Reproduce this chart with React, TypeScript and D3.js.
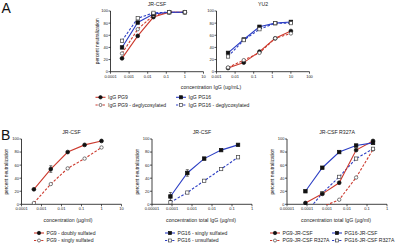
import React from 'react';
import * as d3 from 'd3';

// ---------- data ----------
const concA_JR = [0.000416, 0.002915, 0.0204, 0.1429, 1];
const concA_YU2 = [0.00417, 0.0292, 0.204, 1.43, 10];
const concB1 = [0.000416, 0.002915, 0.0204, 0.1429, 1];
const concB23 = [0.0000833, 0.000583, 0.00408, 0.0286, 0.2];

const jrPG9 = [22, 59, 90, 98, 98];
const jrPG9Degly = [30, 70, 93, 98, 98];
const jrPG16 = [40, 81, 95, 98, 98];
const jrPG16Degly = [51, 88, 97, 98, 98];

const yuPG9 = [6, 15, 33, 55, 67];
const yuPG9Degly = [7, 19, 31, 55, 63];
const yuPG16 = [31, 53, 74, 80, 82];
const yuPG16Degly = [25, 52, 70, 80, 80];

const b1Doubly = [23, 54, 80, 91, 97];
const b1DoublyErr = [0, 5, 0, 0, 0];
const b1Singly = [2, 31, 55, 70, 87];

const b2Singly = [12, 48, 70, 83, 91];
const b2SinglyErr = [6, 5, 0, 0, 0];
const b2Unsulf = [3, 18, 36, 54, 72];

const b3PG9 = [2, 16, 33, 83, 97];
const b3PG9R = [null, -4, 7, 41, 84];
const b3PG16 = [20, 56, 80, 90, 94];
const b3PG16R = [-14, 17, 42, 70, 85];

const yTicks = [0, 20, 40, 60, 80, 100];
const xTicksA1 = ['0.0001', '0.001', '0.01', '0.1', '1', '10'];
const xTicksA2 = ['0.001', '0.01', '0.1', '1', '10', '100'];
const xTicksB1 = ['0.0001', '0.001', '0.01', '0.1', '1', '10'];
const xTicksB23 = ['0.00001', '0.0001', '0.001', '0.01', '0.1', '1'];

const RED = '#cc3a2e';
const BLUE = '#2d3fc4';
const FONT = 'Liberation Sans, Arial, sans-serif';

type Style = { color: string; dashed: boolean; marker: 'circle' | 'square'; open: boolean };
type Series = Style & { values: (number | null)[]; err?: number[]; conc: number[] };

const sPG9: Style = { color: RED, dashed: false, marker: 'circle', open: false };
const sPG9o: Style = { color: RED, dashed: true, marker: 'circle', open: true };
const sPG16: Style = { color: BLUE, dashed: false, marker: 'square', open: false };
const sPG16o: Style = { color: BLUE, dashed: true, marker: 'square', open: true };

function Marker({ st, x, y, scale = 1 }: { st: Style; x: number; y: number; scale?: number }) {
  const fill = st.open ? '#fff' : '#111';
  const stroke = st.open ? '#444' : '#111';
  if (st.marker === 'circle')
    return <circle cx={x} cy={y} r={(st.open ? 1.7 : 1.9) * scale} fill={fill} stroke={stroke} strokeWidth={0.7} />;
  const s = (st.open ? 3.3 : 3.5) * scale;
  return <rect x={x - s / 2} y={y - s / 2} width={s} height={s} fill={fill} stroke={stroke} strokeWidth={0.7} />;
}

function Panel(props: {
  id: string; x0: number; x1: number; y0: number; y1: number;
  ticks: string[]; series: Series[]; title?: string; titleX?: number;
  ylabel?: boolean; ylabelX?: number;
}) {
  const { id, x0, x1, y0, y1, ticks, series, title, ylabel, ylabelX } = props;
  const tv = ticks.map(Number);
  const x = d3.scaleLog().domain([tv[0], tv[tv.length - 1]]).range([x0, x1]);
  const y = d3.scaleLinear().domain([0, 100]).range([y0, y1]);
  const clipId = 'clip-' + id;
  return (
    <g>
      <defs>
        <clipPath id={clipId}>
          <rect x={x0} y={y1 - 6} width={x1 - x0 + 6} height={y0 - y1 + 6.6} />
        </clipPath>
      </defs>
      {title && (
        <text x={props.titleX ?? (x0 + x1) / 2} y={y1 - 5} textAnchor="middle" fontSize={5.2} fontFamily={FONT} fill="#222">{title}</text>
      )}
      <line x1={x0} x2={x0} y1={y0} y2={y1} stroke="#111" strokeWidth={0.8} />
      <line x1={x0} x2={x1} y1={y0} y2={y0} stroke="#111" strokeWidth={0.8} />
      {yTicks.map((t) => (
        <g key={'y' + t}>
          <line x1={x0 - 2} x2={x0} y1={y(t)} y2={y(t)} stroke="#111" strokeWidth={0.7} />
          <text x={x0 - 2.6} y={y(t) + 1.4} textAnchor="end" fontSize={4} fontFamily={FONT} fill="#222">{t}</text>
        </g>
      ))}
      {ticks.map((t, i) => (
        <g key={'x' + t}>
          <line x1={x(tv[i])} x2={x(tv[i])} y1={y0} y2={y0 + 2} stroke="#111" strokeWidth={0.7} />
          <text x={x(tv[i])} y={y0 + 6} textAnchor="middle" fontSize={4} fontFamily={FONT} fill="#222">{t}</text>
        </g>
      ))}
      {ylabel && (
        <text transform={`translate(${ylabelX},${(y0 + y1) / 2}) rotate(-90)`} textAnchor="middle" fontSize={4.8} fontFamily={FONT} fill="#222">percent neutralization</text>
      )}
      <g clipPath={`url(#${clipId})`}>
        {series.map((s, si) => {
          const pts = s.conc.map((c, i) => [c, s.values[i]] as [number, number | null]).filter((p) => p[1] !== null) as [number, number][];
          const line = d3.line<[number, number]>().x((p) => x(p[0])).y((p) => y(p[1]));
          return (
            <path key={'l' + si} d={line(pts) || ''} fill="none" stroke={s.color} strokeWidth={1.1} strokeDasharray={s.dashed ? '2.6,1.6' : undefined} />
          );
        })}
        {series.map((s, si) => (
          <g key={'m' + si}>
            {s.conc.map((c, i) => {
              const v = s.values[i];
              if (v === null) return null;
              const e = s.err ? s.err[i] : 0;
              return (
                <g key={i}>
                  {e > 0 && (
                    <g stroke="#111" strokeWidth={0.6}>
                      <line x1={x(c)} x2={x(c)} y1={y(v - e)} y2={y(v + e)} />
                      <line x1={x(c) - 1.5} x2={x(c) + 1.5} y1={y(v + e)} y2={y(v + e)} />
                      <line x1={x(c) - 1.5} x2={x(c) + 1.5} y1={y(v - e)} y2={y(v - e)} />
                    </g>
                  )}
                  <Marker st={s} x={x(c)} y={y(v)} />
                </g>
              );
            })}
          </g>
        ))}
      </g>
    </g>
  );
}

function LegendItem({ st, x, y, label }: { st: Style; x: number; y: number; label: string }) {
  return (
    <g>
      <line x1={x} x2={x + 10} y1={y} y2={y} stroke={st.color} strokeWidth={1.1} strokeDasharray={st.dashed ? '2.2,1.4' : undefined} />
      <Marker st={st} x={x + 5} y={y} scale={0.9} />
      <text x={x + 12.5} y={y + 1.8} fontSize={5.1} fontFamily={FONT} fill="#222">{label}</text>
    </g>
  );
}

export default function App() {
  const A1: Series[] = [
    { ...sPG9, conc: concA_JR, values: jrPG9 },
    { ...sPG9o, conc: concA_JR, values: jrPG9Degly },
    { ...sPG16, conc: concA_JR, values: jrPG16 },
    { ...sPG16o, conc: concA_JR, values: jrPG16Degly },
  ];
  const A2: Series[] = [
    { ...sPG9, conc: concA_YU2, values: yuPG9 },
    { ...sPG9o, conc: concA_YU2, values: yuPG9Degly },
    { ...sPG16, conc: concA_YU2, values: yuPG16 },
    { ...sPG16o, conc: concA_YU2, values: yuPG16Degly },
  ];
  const B1: Series[] = [
    { ...sPG9o, conc: concB1, values: b1Singly },
    { ...sPG9, conc: concB1, values: b1Doubly, err: b1DoublyErr },
  ];
  const B2: Series[] = [
    { ...sPG16o, conc: concB23, values: b2Unsulf },
    { ...sPG16, conc: concB23, values: b2Singly, err: b2SinglyErr },
  ];
  const B3: Series[] = [
    { ...sPG9o, conc: concB23, values: b3PG9R },
    { ...sPG16o, conc: concB23, values: b3PG16R },
    { ...sPG9, conc: concB23, values: b3PG9 },
    { ...sPG16, conc: concB23, values: b3PG16 },
  ];
  return (
    <svg width={400} height={245} style={{ position: 'absolute', left: 0, top: 0, background: '#fff' }}>
      <rect width={400} height={245} fill="#fff" />
      <text x={1.5} y={13} fontSize={14} fontFamily={FONT} fill="#111">A</text>
      <text x={1} y={140} fontSize={14} fontFamily={FONT} fill="#111">B</text>

      <Panel id="a1" x0={110.5} x1={203.5} y0={71.7} y1={11} ticks={xTicksA1} series={A1} title="JR-CSF" ylabel ylabelX={98.5} />
      <Panel id="a2" x0={216.5} x1={309.5} y0={71.7} y1={11} ticks={xTicksA2} series={A2} title="YU2" />
      <text x={211} y={88.5} textAnchor="middle" fontSize={5.2} fontFamily={FONT} fill="#222">concentration IgG (ug/mL)</text>
      <LegendItem st={sPG9} x={95.5} y={97.3} label="IgG PG9" />
      <LegendItem st={sPG9o} x={95.5} y={105} label="IgG PG9 - deglycosylated" />
      <LegendItem st={sPG16} x={176} y={97.3} label="IgG PG16" />
      <LegendItem st={sPG16o} x={176} y={105} label="IgG PG16 - deglycosylated" />

      <Panel id="b1" x0={21.5} x1={121.5} y0={204.3} y1={139} ticks={xTicksB1} series={B1} title="JR-CSF" ylabel ylabelX={8} />
      <Panel id="b2" x0={152} x1={252} y0={204.3} y1={139} ticks={xTicksB23} series={B2} title="JR-CSF" ylabel ylabelX={138.5} />
      <Panel id="b3" x0={287} x1={387} y0={204.3} y1={139} ticks={xTicksB23} series={B3} title="JR-CSF  R327A" ylabel ylabelX={273.5} />

      <text x={68} y={221.5} textAnchor="middle" fontSize={5.2} fontFamily={FONT} fill="#222">concentration (µg/ml)</text>
      <text x={201} y={221.5} textAnchor="middle" fontSize={5.2} fontFamily={FONT} fill="#222">concentration total IgG (µg/ml)</text>
      <text x={336} y={221.5} textAnchor="middle" fontSize={5.2} fontFamily={FONT} fill="#222">concentration total IgG (µg/ml)</text>

      <LegendItem st={sPG9} x={34} y={233} label="PG9 - doubly sulfated" />
      <LegendItem st={sPG9o} x={34} y={240.5} label="PG9 - singly sulfated" />
      <LegendItem st={sPG16} x={165} y={233} label="PG16 - singly sulfated" />
      <LegendItem st={sPG16o} x={165} y={240.5} label="PG16 - unsulfated" />
      <LegendItem st={sPG9} x={270} y={233} label="PG9-JR-CSF" />
      <LegendItem st={sPG9o} x={270} y={240.5} label="PG9-JR-CSF R327A" />
      <LegendItem st={sPG16} x={332} y={233} label="PG16-JR-CSF" />
      <LegendItem st={sPG16o} x={332} y={240.5} label="PG16-JR-CSF R327A" />
    </svg>
  );
}
